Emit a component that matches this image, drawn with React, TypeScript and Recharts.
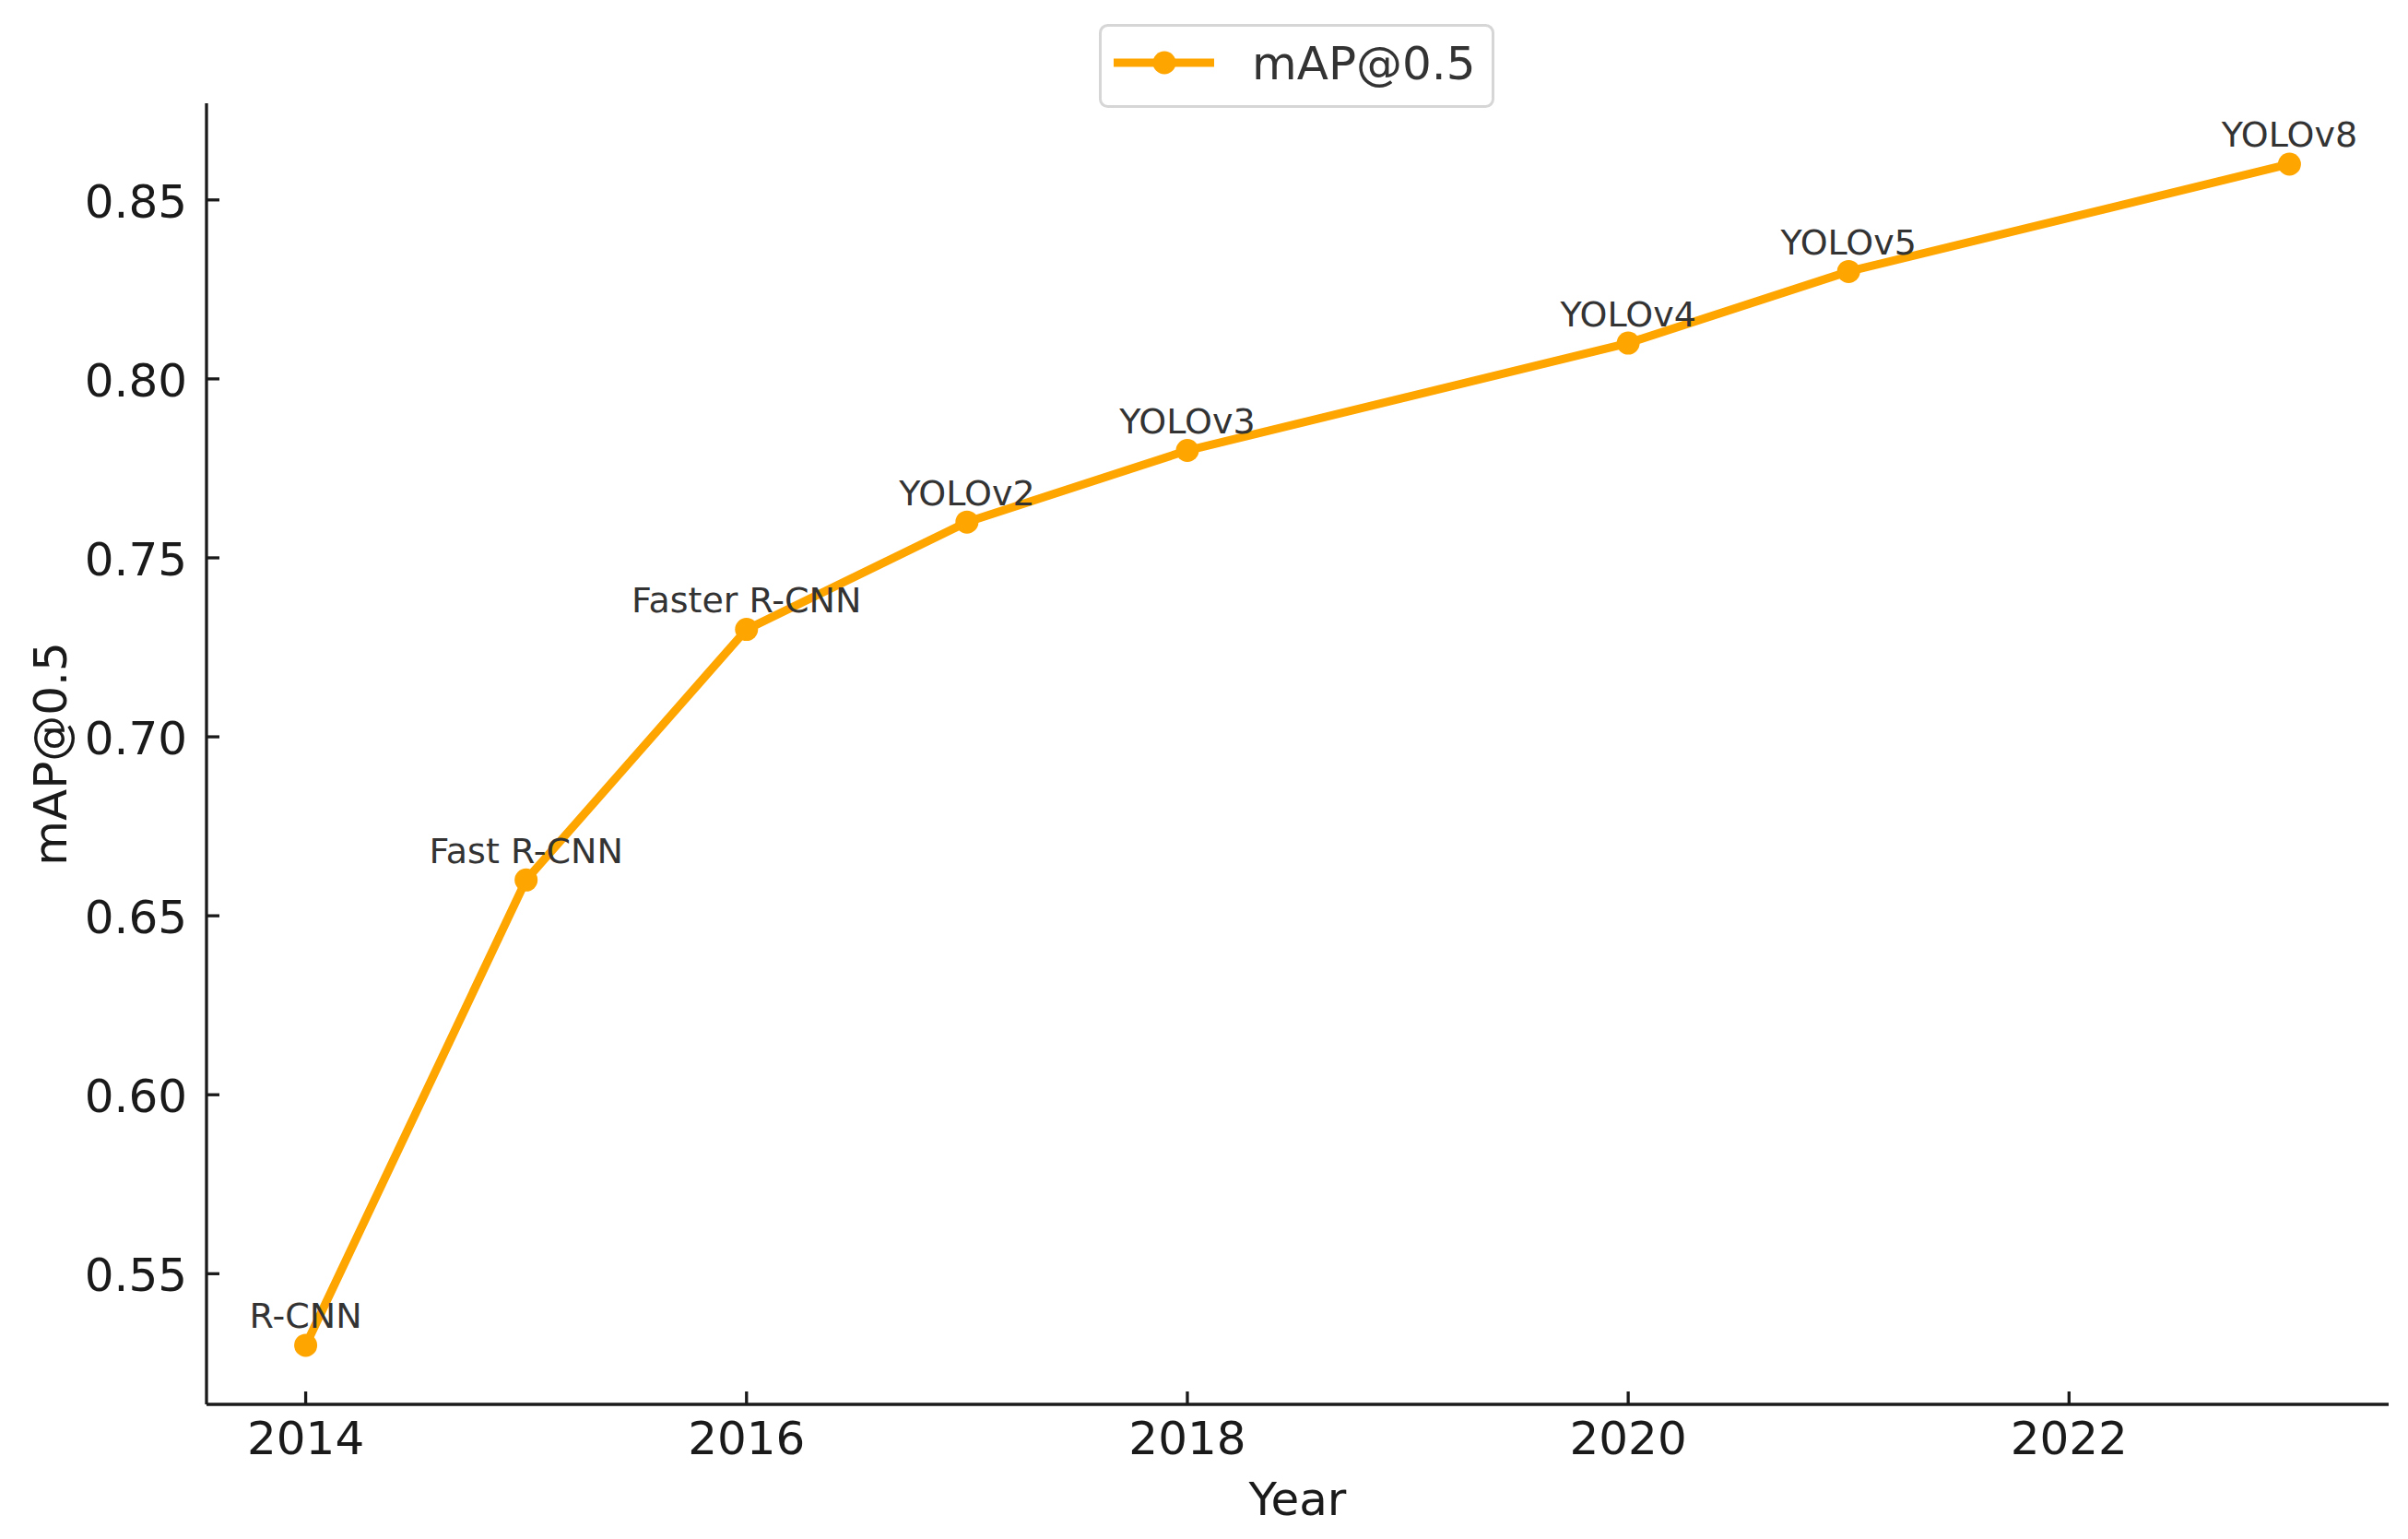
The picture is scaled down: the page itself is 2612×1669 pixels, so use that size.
import React from 'react';
import { LineChart, Line, XAxis, YAxis, Legend, LabelList } from 'recharts';

const years = [2014, 2015, 2016, 2017, 2018, 2020, 2021, 2023];
const mapValues = [0.53, 0.66, 0.73, 0.76, 0.78, 0.81, 0.83, 0.86];
const models = ['R-CNN', 'Fast R-CNN', 'Faster R-CNN', 'YOLOv2', 'YOLOv3', 'YOLOv4', 'YOLOv5', 'YOLOv8'];
const xTicks = [2014, 2016, 2018, 2020, 2022];
const yTicks = [0.55, 0.6, 0.65, 0.7, 0.75, 0.8, 0.85];

const data = years.map((year, i) => ({ year, map: mapValues[i], model: models[i] }));

const FONT = "'DejaVu Sans', sans-serif";
const ORANGE = '#FFA500';
const DARK = '#1a1a1a';

const XTick = (props: any) => {
  const { x, y, payload } = props;
  return (
    <g>
      <line x1={x} y1={y} x2={x} y2={y - 14} stroke={DARK} strokeWidth={3.3} />
      <text x={x} y={y + 54} textAnchor="middle" fontSize={50} fontFamily={FONT} fill={DARK}>
        {payload.value}
      </text>
    </g>
  );
};

const YTick = (props: any) => {
  const { x, y, payload } = props;
  return (
    <g>
      <line x1={x} y1={y} x2={x + 14} y2={y} stroke={DARK} strokeWidth={3.3} />
      <text x={x - 21} y={y + 19} textAnchor="end" fontSize={50} fontFamily={FONT} fill={DARK}>
        {Number(payload.value).toFixed(2)}
      </text>
    </g>
  );
};

const LegendBox = () => (
  <svg width={429} height={91} style={{ display: 'block' }}>
    <rect x={1.5} y={1.5} width={426} height={88} rx={8} ry={8} fill="#fff" stroke="#d6d6d6" strokeWidth={3} />
    <line x1={16} y1={42} x2={125} y2={42} stroke={ORANGE} strokeWidth={9} />
    <circle cx={71} cy={42} r={12.5} fill={ORANGE} />
    <text x={166} y={60} fontSize={50} fontFamily={FONT} fill="#333">mAP@0.5</text>
  </svg>
);

export default function App() {
  return (
    <div style={{ position: 'absolute', left: 0, top: 0, background: '#fff' }}>
      <LineChart width={2612} height={1669} data={data} margin={{ top: 112, right: 21, bottom: 0, left: 0 }}>
        <XAxis
          dataKey="year"
          type="number"
          domain={[2013.55, 2023.45]}
          ticks={xTicks}
          interval={0}
          height={146}
          tickSize={0}
          tickMargin={0}
          tickLine={false}
          tick={<XTick />}
          axisLine={{ stroke: DARK, strokeWidth: 3.3 }}
          label={{ value: 'Year', position: 'insideBottom', offset: 26, fontSize: 50, fontFamily: FONT, fill: DARK }}
        />
        <YAxis
          dataKey="map"
          type="number"
          domain={[0.5135, 0.877]}
          ticks={yTicks}
          interval={0}
          width={224}
          tickSize={0}
          tickMargin={0}
          tickLine={false}
          tick={<YTick />}
          axisLine={{ stroke: DARK, strokeWidth: 3.3 }}
          label={{ value: 'mAP@0.5', angle: -90, position: 'insideLeft', offset: 54, fontSize: 50, fontFamily: FONT, fill: DARK, style: { textAnchor: 'middle' } }}
        />
        <Legend
          layout="vertical"
          align="center"
          verticalAlign="middle"
          content={<LegendBox />}
          wrapperStyle={{ position: 'absolute', left: 1192, top: 26, width: 429, height: 91 }}
        />
        <Line
          type="linear"
          dataKey="map"
          name="mAP@0.5"
          stroke={ORANGE}
          strokeWidth={9}
          dot={{ r: 12.5, fill: ORANGE, stroke: ORANGE, strokeWidth: 0 }}
          activeDot={false}
          isAnimationActive={false}
        >
          <LabelList dataKey="model" position="top" offset={18.5} fill="#333" fontSize={38} fontFamily={FONT} />
        </Line>
      </LineChart>
    </div>
  );
}
